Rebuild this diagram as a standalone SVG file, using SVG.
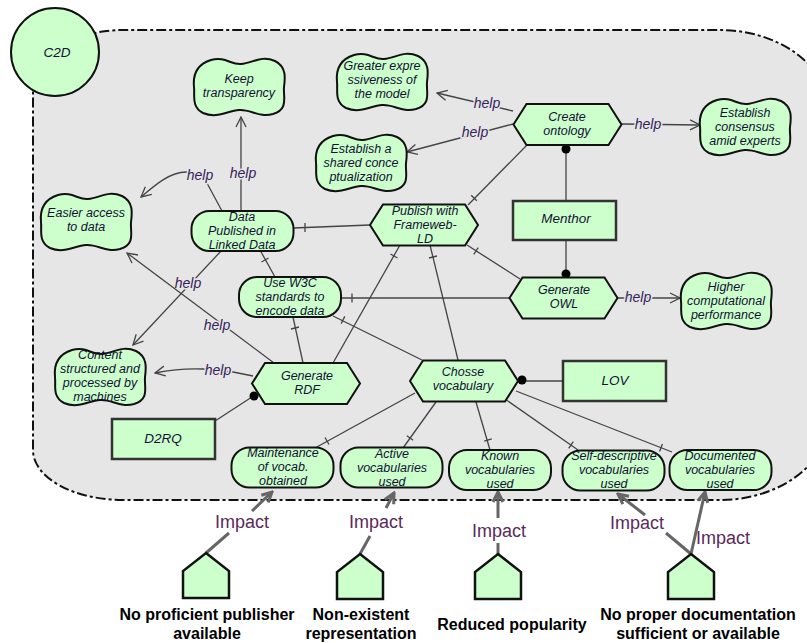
<svg xmlns="http://www.w3.org/2000/svg" xmlns:xlink="http://www.w3.org/1999/xlink" width="807" height="643" viewBox="0 0 807 643">
<defs>
<style>
.n{fill:#ccffcc;stroke:#111;stroke-width:2}
.t{font-family:"Liberation Sans",Arial,sans-serif;font-style:italic;font-size:12.5px;fill:#111133;text-anchor:middle}
.s{font-size:13.5px}
.c{stroke:#444;stroke-width:1.3;fill:none}
.h{font-family:"Liberation Sans",Arial,sans-serif;font-style:italic;font-size:14px;fill:#33225a;text-anchor:middle;paint-order:stroke;stroke:#e6e6e6;stroke-width:3}
.imp{stroke:#666;stroke-width:3;fill:none}
.il{font-family:"Liberation Sans",Arial,sans-serif;font-size:18px;fill:#5a2a5a;text-anchor:middle}
.hz{font-family:"Liberation Sans",Arial,sans-serif;font-weight:bold;font-size:16px;fill:#000;text-anchor:middle}
.dot{fill:#000}
</style>
<marker id="oa" viewBox="0 0 12 12" refX="11" refY="6" markerWidth="12" markerHeight="12" markerUnits="userSpaceOnUse" orient="auto"><path d="M1,1 L11,6 L1,11" fill="none" stroke="#444" stroke-width="1.3"/></marker>
<marker id="ia" viewBox="0 0 14 14" refX="12" refY="7" markerWidth="14" markerHeight="14" markerUnits="userSpaceOnUse" orient="auto"><path d="M2,2 L12,7 L2,12" fill="none" stroke="#666" stroke-width="3"/></marker>
<path id="cloud" class="n" d="M -28,-27 C -14,-31 -8,-22 2,-23 C 14,-24 22,-32 36,-26 C 48,-20 46,-8 45,0 C 44,10 50,22 34,27 C 20,31 12,22 0,23 C -12,24 -22,32 -36,26 C -48,20 -44,8 -45,0 C -46,-10 -44,-22 -28,-27 Z"/>
<polygon id="hex" class="n" points="-54,0 -41,-20.5 41,-20.5 54,0 41,20.5 -41,20.5"/>
<rect id="goal" class="n" x="-51" y="-20" width="102" height="40" rx="18" ry="18"/>
<polygon id="house" points="0,0 23,18 23,45 -23,45 -23,18" fill="#ccffcc" stroke="#111" stroke-width="2.5"/>
</defs>

<g id="boundary">
<path d="M 33,90 A 90 60 0 0 1 123,30 L 720,30 A 110 84 0 0 1 830,114 L 830,416 A 110 84 0 0 1 720,500 L 123,500 A 90 50 0 0 1 33,450 Z" fill="#e6e6e6" stroke="#111" stroke-width="2" stroke-dasharray="10 3 3 3"/>
</g>

<g id="connectors">
<line class="c" x1="527" y1="145" x2="468" y2="205"/><line class="c" x1="471.2" y1="195.2" x2="476.8" y2="200.8"/>
<line class="c" x1="370" y1="225" x2="293" y2="228"/><line class="c" x1="305" y1="223" x2="305" y2="232"/>
<line class="c" x1="520" y1="279" x2="467" y2="245"/><line class="c" x1="478.2" y1="247.6" x2="473.8" y2="254.4"/>
<line class="c" x1="510" y1="298" x2="342" y2="298"/><line class="c" x1="352" y1="293.5" x2="352" y2="302.5"/>
<line class="c" x1="275" y1="277" x2="260" y2="250"/><line class="c" x1="268.5" y1="258" x2="261.5" y2="262"/>
<line class="c" x1="303" y1="363" x2="293" y2="317"/><line class="c" x1="299" y1="327" x2="291" y2="329"/>
<line class="c" x1="333" y1="363" x2="400" y2="245"/><line class="c" x1="397.5" y1="258" x2="390.5" y2="254"/>
<line class="c" x1="458" y1="360" x2="430" y2="245"/><line class="c" x1="437" y1="256" x2="429" y2="258"/>
<line class="c" x1="422" y1="360" x2="333" y2="316"/><line class="c" x1="344.8" y1="316.4" x2="341.2" y2="323.6"/>
<line class="c" x1="415" y1="393" x2="315" y2="448"/><line class="c" x1="329" y1="444.5" x2="325" y2="437.5"/>
<line class="c" x1="436" y1="402" x2="403" y2="448"/><line class="c" x1="413.2" y1="440.3" x2="406.8" y2="435.7"/>
<line class="c" x1="476" y1="402" x2="490" y2="450"/><line class="c" x1="491.8" y1="438.9" x2="484.2" y2="441.1"/>
<line class="c" x1="505" y1="399" x2="578" y2="450"/><line class="c" x1="573.3" y1="441.7" x2="568.7" y2="448.3"/>
<line class="c" x1="516" y1="391" x2="672" y2="452"/><line class="c" x1="662.4" y1="444" x2="659.6" y2="451.4"/>
<line class="c" x1="566" y1="201" x2="566" y2="146"/><circle class="dot" cx="566" cy="149" r="4.5"/>
<line class="c" x1="566" y1="240" x2="566" y2="278"/><circle class="dot" cx="566" cy="274" r="4.5"/>
<line class="c" x1="215" y1="421" x2="255" y2="395"/><circle class="dot" cx="254" cy="396" r="4.5"/>
<line class="c" x1="563" y1="381" x2="518" y2="381"/><circle class="dot" cx="522" cy="380" r="4.5"/>
<line class="c" x1="513" y1="111" x2="437" y2="93" marker-end="url(#oa)"/>
<text class="h" x="487" y="108">help</text>
<line class="c" x1="513" y1="124" x2="407" y2="152" marker-end="url(#oa)"/>
<text class="h" x="475" y="137">help</text>
<line class="c" x1="622" y1="124" x2="700" y2="125" marker-end="url(#oa)"/>
<text class="h" x="648" y="129">help</text>
<line class="c" x1="617" y1="298" x2="680" y2="298" marker-end="url(#oa)"/>
<text class="h" x="638" y="302">help</text>
<line class="c" x1="241" y1="212" x2="241" y2="117" marker-end="url(#oa)"/>
<text class="h" x="243" y="178">help</text>
<path class="c" d="M 222,211 L 208,185 Q 200,172 186,172 C 170,172 155,185 141,197" marker-end="url(#oa)"/>
<text class="h" x="200" y="180">help</text>
<line class="c" x1="222" y1="250" x2="133" y2="345" marker-end="url(#oa)"/>
<text class="h" x="188" y="288">help</text>
<line class="c" x1="274" y1="363" x2="127" y2="253" marker-end="url(#oa)"/>
<text class="h" x="217" y="330">help</text>
<path class="c" d="M 253,376 L 233,372 L 203,369 Q 180,368 155,373" marker-end="url(#oa)"/>
<text class="h" x="218" y="375">help</text>
<line class="imp" x1="206" y1="553" x2="229" y2="533"/>
<line class="imp" x1="252" y1="511" x2="272" y2="492" marker-end="url(#ia)"/>
<text class="il" x="242" y="528">Impact</text>
<line class="imp" x1="360" y1="554" x2="370" y2="536"/>
<line class="imp" x1="386" y1="508" x2="394" y2="493" marker-end="url(#ia)"/>
<text class="il" x="376" y="528">Impact</text>
<line class="imp" x1="498" y1="554" x2="498" y2="543"/>
<line class="imp" x1="498" y1="518" x2="498" y2="492" marker-end="url(#ia)"/>
<text class="il" x="499" y="537">Impact</text>
<line class="imp" x1="691" y1="554" x2="666" y2="533"/>
<line class="imp" x1="645" y1="515" x2="618" y2="494" marker-end="url(#ia)"/>
<text class="il" x="637" y="529">Impact</text>
<line class="imp" x1="691" y1="554" x2="705" y2="492" marker-end="url(#ia)"/>
<text class="il" x="723" y="544">Impact</text>
</g>

<g id="c2d"><circle class="n" cx="55" cy="52" r="44"/><text class="t s" x="57" y="57">C2D</text></g>

<g id="keep-transparency"><use xlink:href="#cloud" x="239" y="87"/><text class="t" x="239" y="83">Keep</text><text class="t" x="239" y="97">transparency</text></g>
<g id="greater-expressiveness"><use xlink:href="#cloud" x="382" y="82"/><text class="t" x="382" y="69.5">Greater expre</text><text class="t" x="382" y="83.5">ssiveness of</text><text class="t" x="382" y="97.5">the model</text></g>
<g id="shared-conceptualization"><use xlink:href="#cloud" x="361" y="163"/><text class="t" x="361" y="152.5">Establish a</text><text class="t" x="361" y="166.5">shared conce</text><text class="t" x="361" y="180.5">ptualization</text></g>
<g id="consensus"><use xlink:href="#cloud" x="745" y="127"/><text class="t" x="745" y="116.5">Establish</text><text class="t" x="745" y="130.5">consensus</text><text class="t" x="745" y="144.5">amid experts</text></g>
<g id="easier-access"><use xlink:href="#cloud" x="86" y="222"/><text class="t" x="86" y="217">Easier access</text><text class="t" x="86" y="231">to data</text></g>
<g id="content-structured"><use xlink:href="#cloud" x="100" y="377"/><text class="t" x="100" y="358.5">Content</text><text class="t" x="100" y="372.5">structured and</text><text class="t" x="100" y="386.5">processed by</text><text class="t" x="100" y="400.5">machines</text></g>
<g id="higher-performance"><use xlink:href="#cloud" x="726" y="301"/><text class="t" x="726" y="290.5">Higher</text><text class="t" x="726" y="304.5">computational</text><text class="t" x="726" y="318.5">performance</text></g>

<g id="create-ontology"><use xlink:href="#hex" x="567.5" y="124.5"/><text class="t" x="567" y="121">Create</text><text class="t" x="567" y="135">ontology</text></g>
<g id="publish-frameweb"><use xlink:href="#hex" x="424" y="225"/><text class="t" x="425" y="214.5">Publish with</text><text class="t" x="425" y="228.5">Frameweb-</text><text class="t" x="425" y="242.5">LD</text></g>
<g id="generate-owl"><use xlink:href="#hex" x="563.5" y="298"/><text class="t" x="564" y="294">Generate</text><text class="t" x="564" y="308">OWL</text></g>
<g id="generate-rdf"><use xlink:href="#hex" x="306" y="383.5"/><text class="t" x="307" y="379.5">Generate</text><text class="t" x="307" y="393.5">RDF</text></g>
<g id="chosse-vocabulary"><use xlink:href="#hex" x="464" y="381"/><text class="t" x="463" y="375.5">Chosse</text><text class="t" x="463" y="389.5">vocabulary</text></g>

<g id="menthor"><rect class="n" x="513" y="201" width="103" height="39" style="stroke:#333;stroke-width:2.5"/><text class="t s" x="566" y="223">Menthor</text></g>
<g id="lov"><rect class="n" x="563" y="361" width="103" height="40" style="stroke:#333;stroke-width:2.5"/><text class="t s" x="615" y="385">LOV</text></g>
<g id="d2rq"><rect class="n" x="112" y="419" width="103" height="40" style="stroke:#333;stroke-width:2.5"/><text class="t s" x="163" y="443">D2RQ</text></g>

<g id="data-published"><use xlink:href="#goal" x="242.5" y="231"/><text class="t" x="242" y="220.5">Data</text><text class="t" x="242" y="234.5">Published in</text><text class="t" x="242" y="248.5">Linked Data</text></g>
<g id="use-w3c"><use xlink:href="#goal" x="290" y="297"/><text class="t" x="290" y="286.5">Use W3C</text><text class="t" x="290" y="300.5">standards to</text><text class="t" x="290" y="314.5">encode data</text></g>
<g id="maintenance"><use xlink:href="#goal" x="282.5" y="467.5"/><text class="t" x="283" y="456.5">Maintenance</text><text class="t" x="283" y="470.5">of vocab.</text><text class="t" x="283" y="484.5">obtained</text></g>
<g id="active-vocab"><use xlink:href="#goal" x="391.5" y="467.5"/><text class="t" x="392" y="457.5">Active</text><text class="t" x="392" y="471.5">vocabularies</text><text class="t" x="392" y="485.5">used</text></g>
<g id="known-vocab"><use xlink:href="#goal" x="500" y="470"/><text class="t" x="500" y="459.5">Known</text><text class="t" x="500" y="473.5">vocabularies</text><text class="t" x="500" y="487.5">used</text></g>
<g id="self-descriptive"><use xlink:href="#goal" x="613.5" y="470.5"/><text class="t" x="614" y="459.5">Self-descriptive</text><text class="t" x="614" y="473.5">vocabularies</text><text class="t" x="614" y="487.5">used</text></g>
<g id="documented"><use xlink:href="#goal" x="720.5" y="470"/><text class="t" x="720" y="459.5">Documented</text><text class="t" x="720" y="473.5">vocabularies</text><text class="t" x="720" y="487.5">used</text></g>

<g id="hazard-publisher"><use xlink:href="#house" x="206" y="553"/><text class="hz" x="207" y="620">No proficient publisher</text><text class="hz" x="207" y="639">available</text></g>
<g id="hazard-representation"><use xlink:href="#house" x="360" y="554"/><text class="hz" x="361" y="620">Non-existent</text><text class="hz" x="361" y="639">representation</text></g>
<g id="hazard-popularity"><use xlink:href="#house" x="498" y="554"/><text class="hz" x="512" y="630">Reduced popularity</text></g>
<g id="hazard-documentation"><use xlink:href="#house" x="691" y="554"/><text class="hz" x="698" y="620">No proper documentation</text><text class="hz" x="698" y="639">sufficient or available</text></g>
</svg>
